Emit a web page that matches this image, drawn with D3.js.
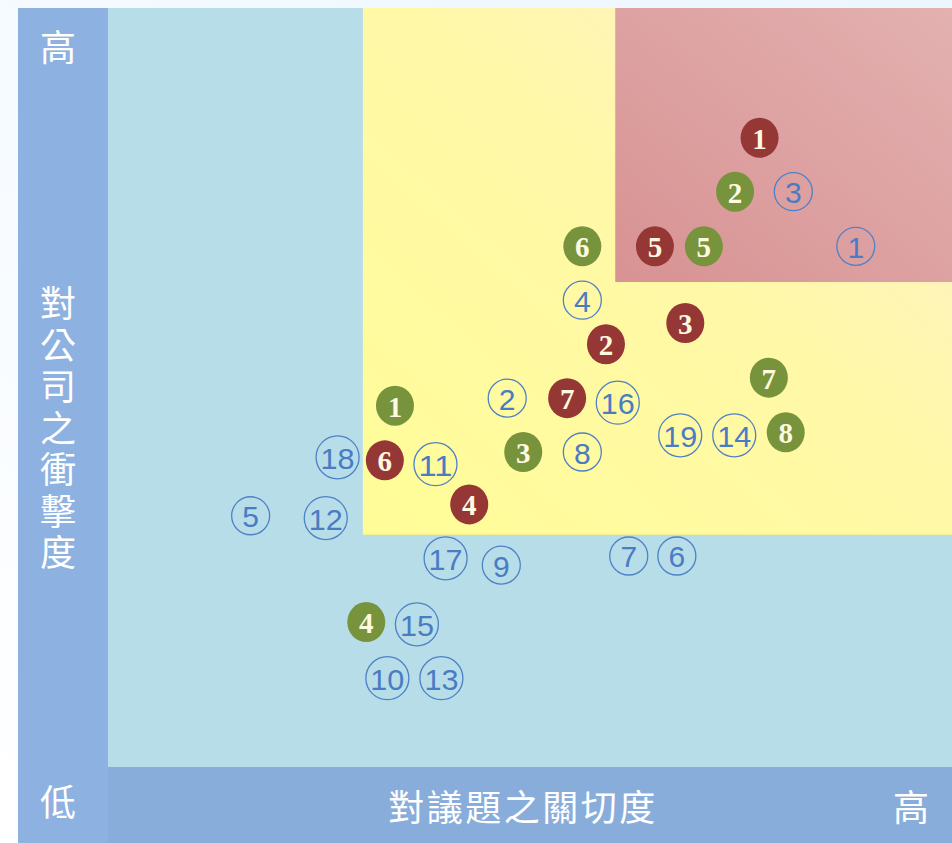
<!DOCTYPE html>
<html>
<head>
<meta charset="utf-8">
<script src="https://cdn.jsdelivr.net/npm/d3@7"></script>
<style>
  html, body { margin: 0; padding: 0; }
  body { width: 952px; height: 843px; overflow: hidden; background: #f3f9ff; }
  svg { display: block; }
</style>
</head>
<body>
<svg id="chart" width="952" height="843"></svg>
<script>
// ---- data (x: 對議題之關切度, y: 對公司之衝擊度, 0-100 scale) ----
const redLabels   = ["1","2","3","4","5","6","7"];
const redX        = [77.2, 59.0, 68.4, 42.8, 64.8, 32.8, 54.4];
const redY        = [82.9, 55.7, 58.5, 34.6, 68.6, 40.4, 48.6];

const greenLabels = ["1","2","3","4","5","6","7","8"];
const greenX      = [34.0, 74.3, 49.2, 30.6, 70.6, 56.2, 78.3, 80.3];
const greenY      = [47.6, 75.8, 41.5, 19.1, 68.6, 68.6, 51.3, 44.1];

const blueLabels  = ["1","2","3","4","5","6","7","8","9","10","11","12","13","14","15","16","17","18","19"];
const blueX       = [88.6, 47.3, 81.2, 56.2, 16.9, 67.4, 61.7, 56.2, 46.6, 33.1, 38.8, 25.8, 39.5, 74.2, 36.6, 60.4, 40.0, 27.2, 67.8];
const blueY       = [68.6, 48.6, 75.8, 61.5, 33.1, 27.8, 27.8, 41.5, 26.6, 11.7, 39.9, 32.8, 11.7, 43.7, 18.8, 48.0, 27.5, 40.8, 43.7];

// zone thresholds (same 0-100 scale)
const yellowStart = [30.2, 30.6];   // [x, y]
const redStart    = [60.1, 63.9];   // [x, y]

const axisLow  = "低";
const axisHigh = "高";
const xTitle   = "對議題之關切度";
const yTitle   = "對公司之衝擊度";

// ---- drawing ----
const svg = d3.select("#chart");
const plot = {left: 108, right: 952, top: 8, bottom: 767};
const x = d3.scaleLinear().domain([0, 100]).range([plot.left, plot.right]);
const y = d3.scaleLinear().domain([0, 100]).range([plot.bottom, plot.top]);

const defs = svg.append("defs");
const gPage = defs.append("linearGradient").attr("id", "gPage")
  .attr("x1", "0").attr("y1", "1").attr("x2", "1").attr("y2", "0");
gPage.append("stop").attr("offset", "0").attr("stop-color", "#ffffff");
gPage.append("stop").attr("offset", "1").attr("stop-color", "#ebf6ff");

const gYellow = defs.append("linearGradient").attr("id", "gYellow")
  .attr("x1", "0").attr("y1", "1").attr("x2", "1").attr("y2", "0");
gYellow.append("stop").attr("offset", "0").attr("stop-color", "#fffd98");
gYellow.append("stop").attr("offset", "0.55").attr("stop-color", "#fff8a8");
gYellow.append("stop").attr("offset", "1").attr("stop-color", "#ffefcf");

const gRed = defs.append("linearGradient").attr("id", "gRed")
  .attr("x1", "0").attr("y1", "1").attr("x2", "1").attr("y2", "0");
gRed.append("stop").attr("offset", "0").attr("stop-color", "#d89293");
gRed.append("stop").attr("offset", "1").attr("stop-color", "#e3b1b0");

// page background
svg.append("rect").attr("x", 0).attr("y", 0).attr("width", 952).attr("height", 843)
  .attr("fill", "url(#gPage)");

// left axis band
svg.append("rect").attr("x", 18).attr("y", plot.top)
  .attr("width", plot.left - 18).attr("height", 843 - plot.top)
  .attr("fill", "#8db2e1");
// bottom axis band
svg.append("rect").attr("x", plot.left).attr("y", plot.bottom)
  .attr("width", plot.right - plot.left).attr("height", 843 - plot.bottom)
  .attr("fill", "#89addb");

// plot area (low zone)
svg.append("rect").attr("x", x(0)).attr("y", y(100))
  .attr("width", x(100) - x(0)).attr("height", y(0) - y(100))
  .attr("fill", "#b7dde8");

// yellow zone
svg.append("rect").attr("x", x(yellowStart[0])).attr("y", y(100))
  .attr("width", x(100) - x(yellowStart[0])).attr("height", y(yellowStart[1]) - y(100))
  .attr("fill", "url(#gYellow)");
svg.append("line")
  .attr("x1", x(yellowStart[0])).attr("x2", x(100))
  .attr("y1", y(yellowStart[1]) - 0.5).attr("y2", y(yellowStart[1]) - 0.5)
  .attr("stroke", "#f4ef8a").attr("stroke-width", 1);

// red zone
svg.append("rect").attr("x", x(redStart[0])).attr("y", y(100))
  .attr("width", x(100) - x(redStart[0])).attr("height", y(redStart[1]) - y(100))
  .attr("fill", "url(#gRed)");

// axis labels
const cjk = "'Noto Sans CJK TC', 'Noto Sans CJK SC', sans-serif";
const lblColor = "#ffffff";
svg.append("text").attr("x", 58).attr("y", 45).text(axisHigh)
  .attr("font-family", cjk).attr("font-size", 36).attr("fill", lblColor)
  .attr("text-anchor", "middle").attr("dominant-baseline", "central");
svg.append("text").attr("x", 58).attr("y", 800).text(axisLow)
  .attr("font-family", cjk).attr("font-size", 36).attr("fill", lblColor)
  .attr("text-anchor", "middle").attr("dominant-baseline", "central");
svg.append("text").attr("x", 911).attr("y", 805).text(axisHigh)
  .attr("font-family", cjk).attr("font-size", 36).attr("fill", lblColor)
  .attr("text-anchor", "middle").attr("dominant-baseline", "central");
svg.append("text").attr("x", 523).attr("y", 805).text(xTitle)
  .attr("font-family", cjk).attr("font-size", 36).attr("fill", lblColor)
  .attr("letter-spacing", 2.5)
  .attr("text-anchor", "middle").attr("dominant-baseline", "central");

// vertical y-axis title as one text element
svg.append("text").text(yTitle)
  .attr("x", 58).attr("y", 431)
  .attr("font-family", cjk).attr("font-size", 36).attr("fill", lblColor)
  .attr("writing-mode", "vertical-rl")
  .style("text-orientation", "upright")
  .attr("letter-spacing", 5.5)
  .attr("text-anchor", "middle");

// markers
function filled(labels, xs, ys, color) {
  const data = labels.map((l, i) => ({l, x: xs[i], y: ys[i]}));
  const g = svg.append("g").selectAll("g").data(data).join("g")
    .attr("transform", d => `translate(${x(d.x)},${y(d.y)})`);
  g.append("ellipse").attr("rx", 19).attr("ry", 20).attr("fill", color);
  g.append("text").text(d => d.l)
    .attr("font-family", "'Liberation Serif', 'DejaVu Serif', serif")
    .attr("font-weight", "bold").attr("font-size", 29)
    .attr("fill", "#fff9e0").attr("text-anchor", "middle")
    .attr("dominant-baseline", "central").attr("dy", 1);
}
filled(redLabels, redX, redY, "#953735");
filled(greenLabels, greenX, greenY, "#77933c");

const blueData = blueLabels.map((l, i) => ({l, x: blueX[i], y: blueY[i]}));
const bg = svg.append("g").selectAll("g").data(blueData).join("g")
  .attr("transform", d => `translate(${x(d.x)},${y(d.y)})`);
bg.append("circle").attr("r", d => d.l.length > 1 ? 21.5 : 19)
  .attr("fill", "none").attr("stroke", "#4f81c7").attr("stroke-width", 1.3);
bg.append("text").text(d => d.l)
  .attr("font-family", "'Liberation Sans', Arial, sans-serif")
  .attr("font-size", 30).attr("fill", "#4a7cc4")
  .attr("text-anchor", "middle").attr("dominant-baseline", "central").attr("dy", 1)
  .each(function(d) { if (d.l.length > 1) d3.select(this).attr("textLength", 34).attr("lengthAdjust", "spacingAndGlyphs"); });
</script>
</body>
</html>
